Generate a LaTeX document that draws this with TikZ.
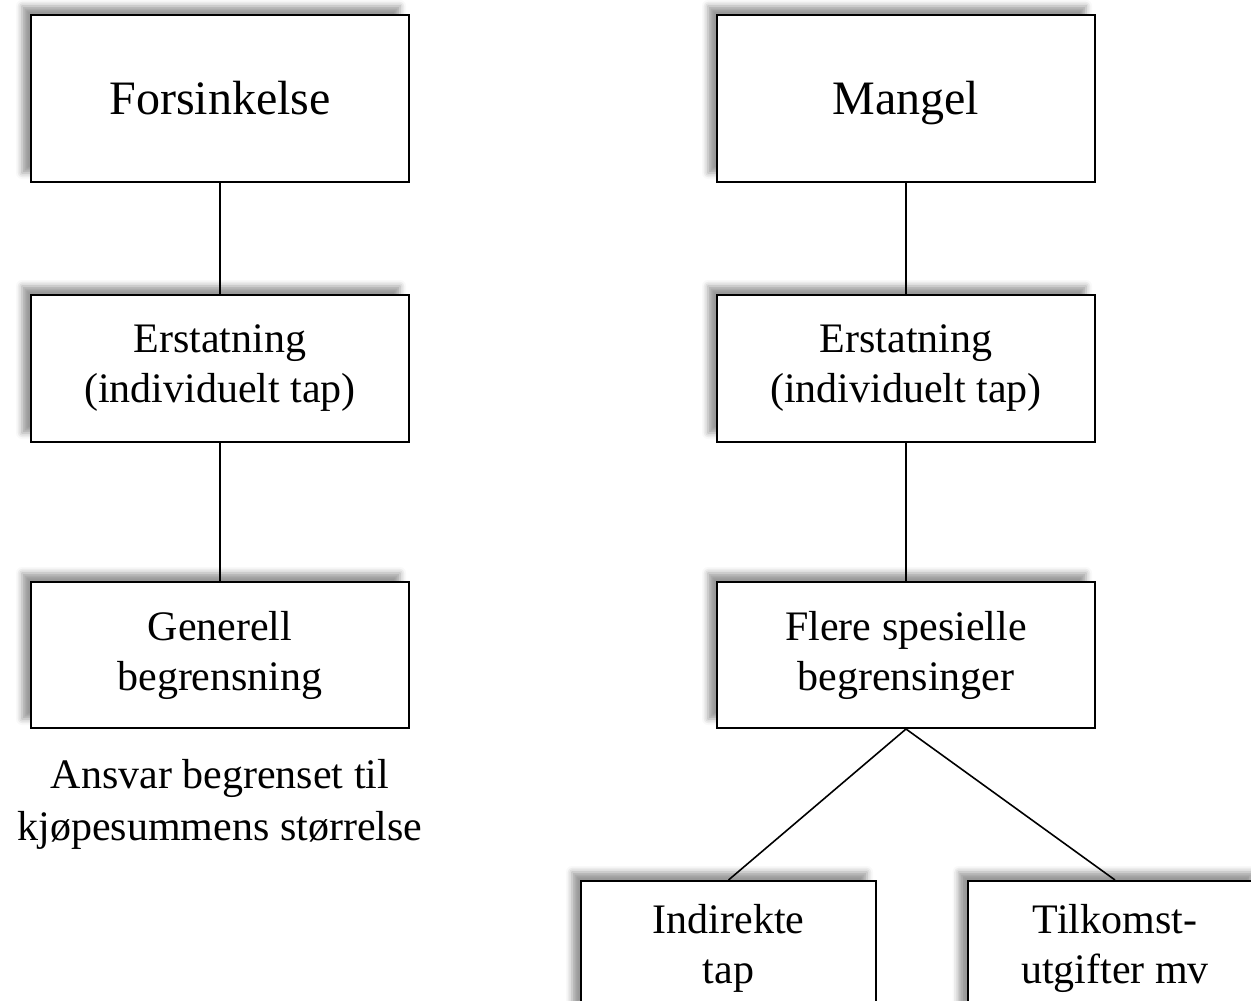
\documentclass[tikz,border=0pt]{standalone}
\usepackage{fontspec}
\setmainfont{Liberation Serif}
\usetikzlibrary{positioning,shadows.blur}

\begin{document}
\begin{tikzpicture}[node distance=55.5pt, every node/.style={font=\fontsize{21}{25}\selectfont}]
    % Styles
    \tikzstyle{box} = [rectangle, minimum width=189pt, minimum height=73.5pt, align=center, draw=black, line width=1pt, fill=white, blur shadow={shadow xshift=-4.5pt, shadow yshift=4.5pt, shadow blur radius=3pt}]
    \tikzstyle{topbox} = [box, minimum height=83.5pt, font=\fontsize{24}{28}\selectfont, text height=16.4pt, text depth=0pt]
    \tikzstyle{leaf} = [box, minimum width=147.5pt, minimum height=67pt, anchor=north]
    \tikzstyle{link} = [line width=0.8pt]
    \tikzstyle{caption} = [align=center, inner sep=0pt, font=\fontsize{21}{26}\selectfont]

    \useasboundingbox (0,0) rectangle (625.5pt,-500pt);

    % Nodes
    \node (fors)   [topbox] at (110pt,-49.25pt) {Forsinkelse};
    \node (erst1)  [box, below=of fors] {Erstatning\\(individuelt tap)};
    \node (begr1)  [box, minimum height=73pt, below=69pt of erst1] {Generell\\begrensning};

    \node (mangel) [topbox] at (453pt,-49.25pt) {Mangel};
    \node (erst2)  [box, below=of mangel] {Erstatning\\(individuelt tap)};
    \node (flere)  [box, minimum height=73pt, below=69pt of erst2] {Flere spesielle\\begrensinger};
    \node (indir)  [leaf] at (364.25pt,-440pt) {Indirekte\\tap};
    \node (tilk)   [leaf] at (557.5pt,-440pt) {Tilkomst-\\utgifter mv};

    % Lines
    \draw [link] (fors.south) -- (erst1.north);
    \draw [link] (erst1.south) -- (begr1.north);
    \draw [link] (mangel.south) -- (erst2.north);
    \draw [link] (erst2.south) -- (flere.north);
    \draw [link] (flere.south) -- (indir.north);
    \draw [link] (flere.south) -- (tilk.north);

    % Captions
    \node (ansvar) [caption, below=15pt of begr1] {Ansvar begrenset til\\kjøpesummens størrelse};
\end{tikzpicture}
\end{document}
